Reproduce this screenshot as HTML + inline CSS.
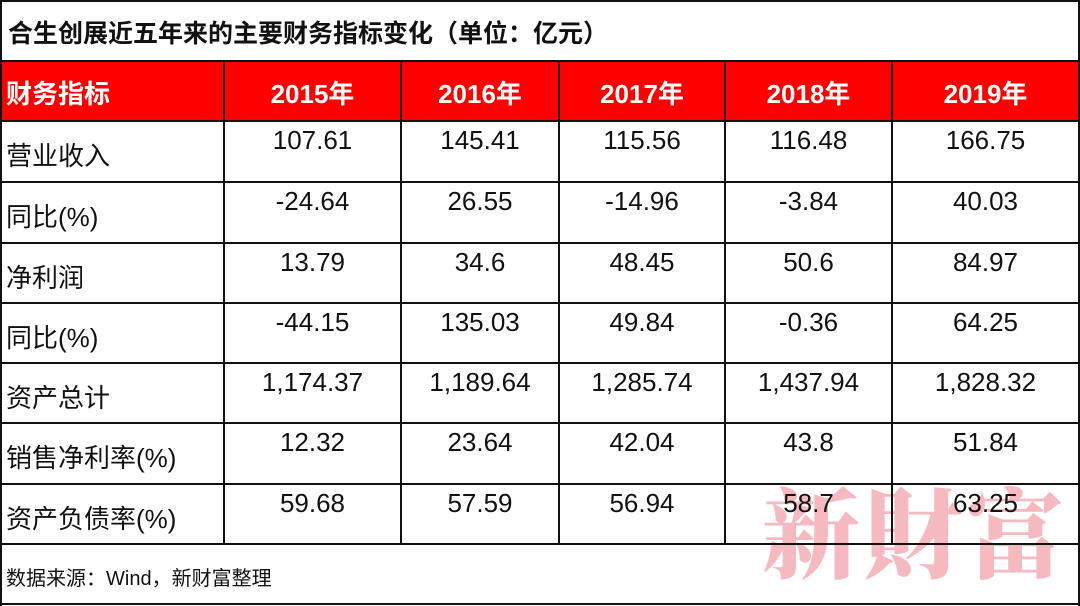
<!DOCTYPE html>
<html><head><meta charset="utf-8"><style>
body{margin:0;width:1080px;height:606px;background:#fff;position:relative;overflow:hidden;font-family:"Liberation Sans","Noto Sans CJK SC",sans-serif;}
.a{position:absolute;}
.h{position:absolute;left:0;width:1080px;height:2px;background:#111;}
.v{position:absolute;width:2px;background:#111;}
.t{position:absolute;font-size:26px;color:#111;white-space:nowrap;}
.c{text-align:center;}
</style></head><body>
<div class="a" style="left:0;top:61px;width:1080px;height:60px;background:#ff0000"></div>
<div class="a" style="left:762px;top:480px;font-family:'Noto Serif CJK SC',serif;font-weight:900;font-size:98px;color:#f6b9c0;letter-spacing:4px;line-height:1">新財富</div>
<div class="h" style="top:0"></div>
<div class="h" style="top:60px"></div>
<div class="h" style="top:120px"></div>
<div class="h" style="top:181px"></div>
<div class="h" style="top:242px"></div>
<div class="h" style="top:302px"></div>
<div class="h" style="top:362px"></div>
<div class="h" style="top:422px"></div>
<div class="h" style="top:483px"></div>
<div class="h" style="top:543px"></div>
<div class="h" style="top:603px"></div>
<div class="v" style="left:0;top:0;height:606px"></div>
<div class="v" style="left:1078px;top:0;height:606px"></div>
<div class="v" style="left:223px;top:60px;height:484px"></div>
<div class="v" style="left:400px;top:60px;height:484px"></div>
<div class="v" style="left:558px;top:60px;height:484px"></div>
<div class="v" style="left:724px;top:60px;height:484px"></div>
<div class="v" style="left:891px;top:60px;height:484px"></div>
<div class="t" style="left:8px;top:14px;font-weight:bold;font-size:25px">合生创展近五年来的主要财务指标变化（单位：亿元）</div>
<div class="t" style="left:6px;top:74px;font-weight:bold;color:#fff">财务指标</div>
<div class="t c" style="left:224px;width:177px;top:74px;font-weight:bold;color:#fff">2015年</div>
<div class="t c" style="left:401px;width:158px;top:74px;font-weight:bold;color:#fff">2016年</div>
<div class="t c" style="left:559px;width:166px;top:74px;font-weight:bold;color:#fff">2017年</div>
<div class="t c" style="left:725px;width:167px;top:74px;font-weight:bold;color:#fff">2018年</div>
<div class="t c" style="left:892px;width:187px;top:74px;font-weight:bold;color:#fff">2019年</div>
<div id="rows"></div>
<div class="t" style="left:6px;top:562px;font-size:20px">数据来源：Wind，新财富整理</div>
<script>
var d=[["营业收入","107.61","145.41","115.56","116.48","166.75"],["同比(%)","-24.64","26.55","-14.96","-3.84","40.03"],["净利润","13.79","34.6","48.45","50.6","84.97"],["同比(%)","-44.15","135.03","49.84","-0.36","64.25"],["资产总计","1,174.37","1,189.64","1,285.74","1,437.94","1,828.32"],["销售净利率(%)","12.32","23.64","42.04","43.8","51.84"],["资产负债率(%)","59.68","57.59","56.94","58.7","63.25"]];
var tops=[121,182,243,303,363,423,484],xs=[224,401,559,725,892,1079],h="";
d.forEach(function(r,i){var y=tops[i];h+='<div class="t" style="left:6px;top:'+(y+15)+'px">'+r[0]+'</div>';
for(var j=1;j<6;j++)h+='<div class="t c" style="left:'+xs[j-1]+'px;width:'+(xs[j]-xs[j-1])+'px;top:'+(y+4)+'px">'+r[j]+'</div>';});
document.getElementById('rows').innerHTML=h;
</script>
</body></html>
